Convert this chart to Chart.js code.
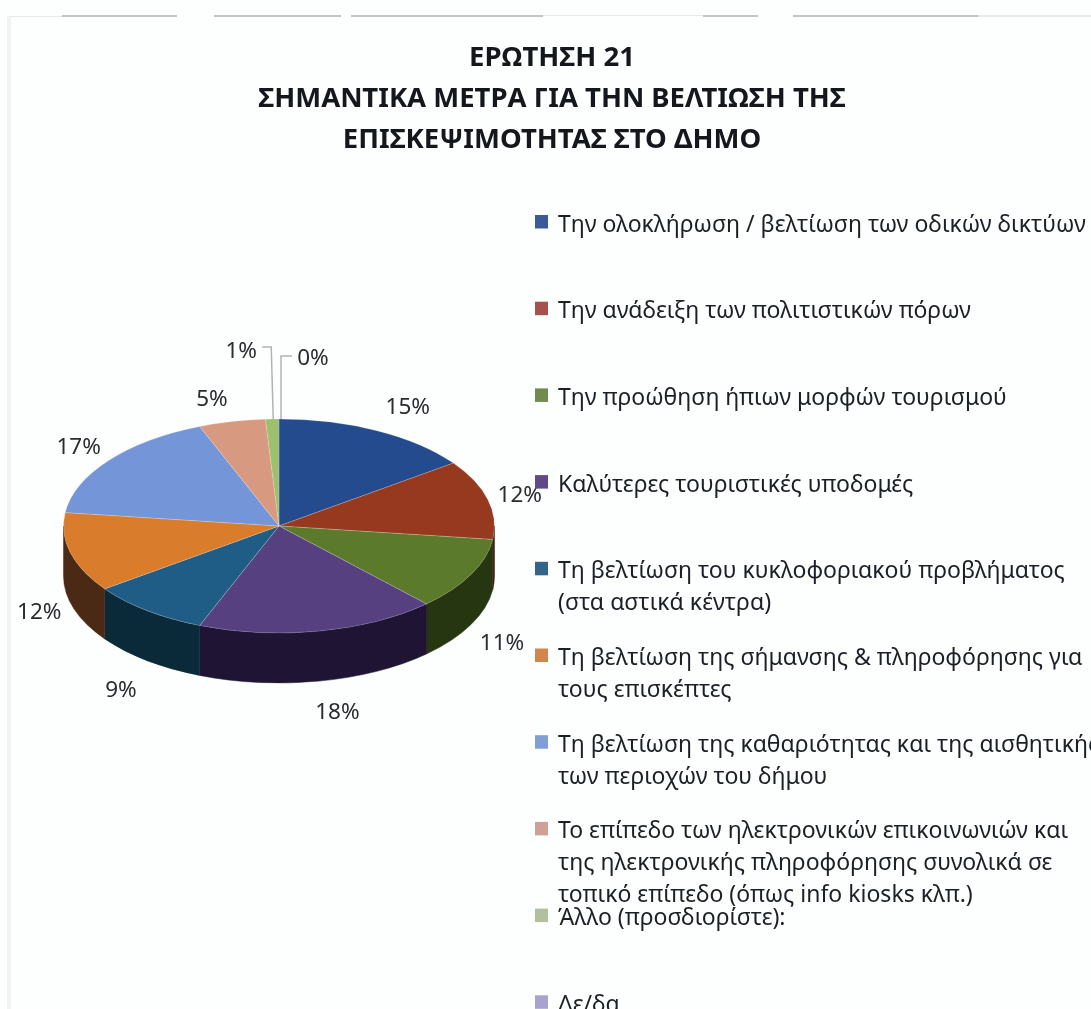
<!DOCTYPE html>
<html><head><meta charset="utf-8">
<style>html,body{margin:0;padding:0;background:#fdfefe;overflow:hidden}canvas{display:block}</style>
<script src="https://cdn.jsdelivr.net/npm/chart.js@4"></script>
</head><body><canvas id="c" width="1091" height="1009"></canvas>
<script>
const titleLines = ["ΕΡΩΤΗΣΗ 21","ΣΗΜΑΝΤΙΚΑ ΜΕΤΡΑ ΓΙΑ ΤΗΝ ΒΕΛΤΙΩΣΗ ΤΗΣ","ΕΠΙΣΚΕΨΙΜΟΤΗΤΑΣ ΣΤΟ ΔΗΜΟ"];
const categories = [
 "Την ολοκλήρωση / βελτίωση των οδικών δικτύων",
 "Την ανάδειξη των πολιτιστικών πόρων",
 "Την προώθηση ήπιων μορφών τουρισμού",
 "Καλύτερες τουριστικές υποδομές",
 "Τη βελτίωση του κυκλοφοριακού προβλήματος\n(στα αστικά κέντρα)",
 "Τη βελτίωση της σήμανσης & πληροφόρησης για\nτους επισκέπτες",
 "Τη βελτίωση της καθαριότητας και της αισθητικής\nτων περιοχών του δήμου",
 "Το επίπεδο των ηλεκτρονικών επικοινωνιών και\nτης ηλεκτρονικής πληροφόρησης συνολικά σε\nτοπικό επίπεδο (όπως info kiosks κλπ.)",
 "Άλλο (προσδιορίστε):",
 "Δε/δα"
];
const values = [15,12,11,18,9,12,17,5,1,0];
const topColors = ["#234b8e","#97391f","#5c7a2c","#56407f","#1f5d86","#d97c2c","#7496d8","#d79a80","#9dc06d","#8a7fb8"];
const wallColors = ["#12264a","#4d1c10","#263610","#1f1433","#0a2a3a","#4a2a14","#3a4c70","#6e4d40","#4f6036","#453f5c"];
const legendColors = ["#3d5a98","#a5524f","#728a4e","#5f4a87","#35648a","#d0854b","#7f9fd6","#cfa095","#b2c19c","#a8a3cc"];
const labelNudge = [[31,-23],[32,-4],[31,69],[18,81],[-26,80],[-31,60],[-30,-13],[-20,-22],[-31,-67],[34,-60]];

const SQUASH = 0.4965, DEPTH = 50;
const FONT = '"Noto Sans"';

const pie3d = {
  id:'pie3d',
  beforeDraw(chart){
    const c = chart.ctx; c.save();
    c.fillStyle='#fdfefe'; c.fillRect(0,0,chart.width,chart.height);
    c.fillStyle='#c2c4c6';
    [[62,177],[214,341],[351,543],[703,758],[793,978]].forEach(s=>c.fillRect(s[0],15,s[1]-s[0],2));
    c.fillStyle='#e6e8e9'; c.fillRect(543,15,160,1); c.fillRect(978,15,113,2); c.fillRect(10,16,52,1);
    c.fillStyle='#f1f2f3'; c.fillRect(7,16,4,993);
    c.restore();
  },
  beforeDatasetsDraw(chart){
    const c = chart.ctx, arcs = chart.getDatasetMeta(0).data;
    const {x:cx,y:cy,outerRadius:r} = arcs[0].getProps(['x','y','outerRadius']);
    const ry = r*SQUASH;
    c.save();
    arcs.forEach((a,i)=>{
      const s = Math.max(a.startAngle,0), e = Math.min(a.endAngle,Math.PI);
      if(e<=s) return;
      c.beginPath();
      c.ellipse(cx,cy,r,ry,0,s,e);
      c.ellipse(cx,cy+DEPTH,r,ry,0,e,s,true);
      c.closePath();
      c.fillStyle = wallColors[i]; c.strokeStyle = wallColors[i]; c.lineWidth=.5;
      c.fill(); c.stroke();
    });
    c.restore();
    c.save();
    c.translate(cx,cy); c.scale(1,SQUASH); c.translate(-cx,-cy);
  },
  afterDatasetsDraw(chart){ chart.ctx.restore(); },
  afterDraw(chart){
    const c = chart.ctx, arcs = chart.getDatasetMeta(0).data;
    c.save();
    c.fillStyle='#14171c'; c.textAlign='center'; c.textBaseline='middle';
    c.font=`bold 27.5px ${FONT}`;
    titleLines.forEach((t,i)=>c.fillText(t,552,58+i*41));
    c.font=`22.5px ${FONT}`; c.fillStyle='#2a2d30';
    arcs.forEach((a,i)=>{
      const mid=(a.startAngle+a.endAngle)/2, r=a.outerRadius;
      const ex=a.x+r*Math.cos(mid), ey=a.y+r*SQUASH*Math.sin(mid);
      const lx=ex+labelNudge[i][0], ly=ey+labelNudge[i][1];
      if(i>=8){
        c.strokeStyle='#b0b3b5'; c.lineWidth=1.5; c.beginPath();
        const dir=i===8?1:-1, vx=i===8?ex-1:ex+2, hy=i===8?ly-5:ly-3;
        c.moveTo(lx+dir*21,hy); c.lineTo(vx,hy); c.lineTo(ex+(i===8?1:2),ey); c.stroke();
      }
      c.fillText(values[i]+'%',lx,ly);
    });
    c.textAlign='left';
    c.font=`23px ${FONT}`;
    categories.forEach((t,i)=>{
      const top=215+i*86.7;
      c.fillStyle=legendColors[i]; c.fillRect(535,top,13,13.5);
      c.fillStyle='#1b2026';
      t.split('\n').forEach((ln,j)=>c.fillText(ln,558,top+10+j*32));
    });
    c.restore();
  }
};

new Chart(document.getElementById('c'),{
  type:'pie',
  data:{labels:categories,datasets:[{data:values,backgroundColor:topColors,borderColor:'rgba(255,255,255,.25)',borderWidth:1,clip:false}]},
  options:{
    responsive:false,animation:false,
    layout:{padding:{left:63,right:596,top:310,bottom:267}},
    plugins:{legend:{display:false},title:{display:false},tooltip:{enabled:false}}
  },
  plugins:[pie3d]
});
</script></body></html>
